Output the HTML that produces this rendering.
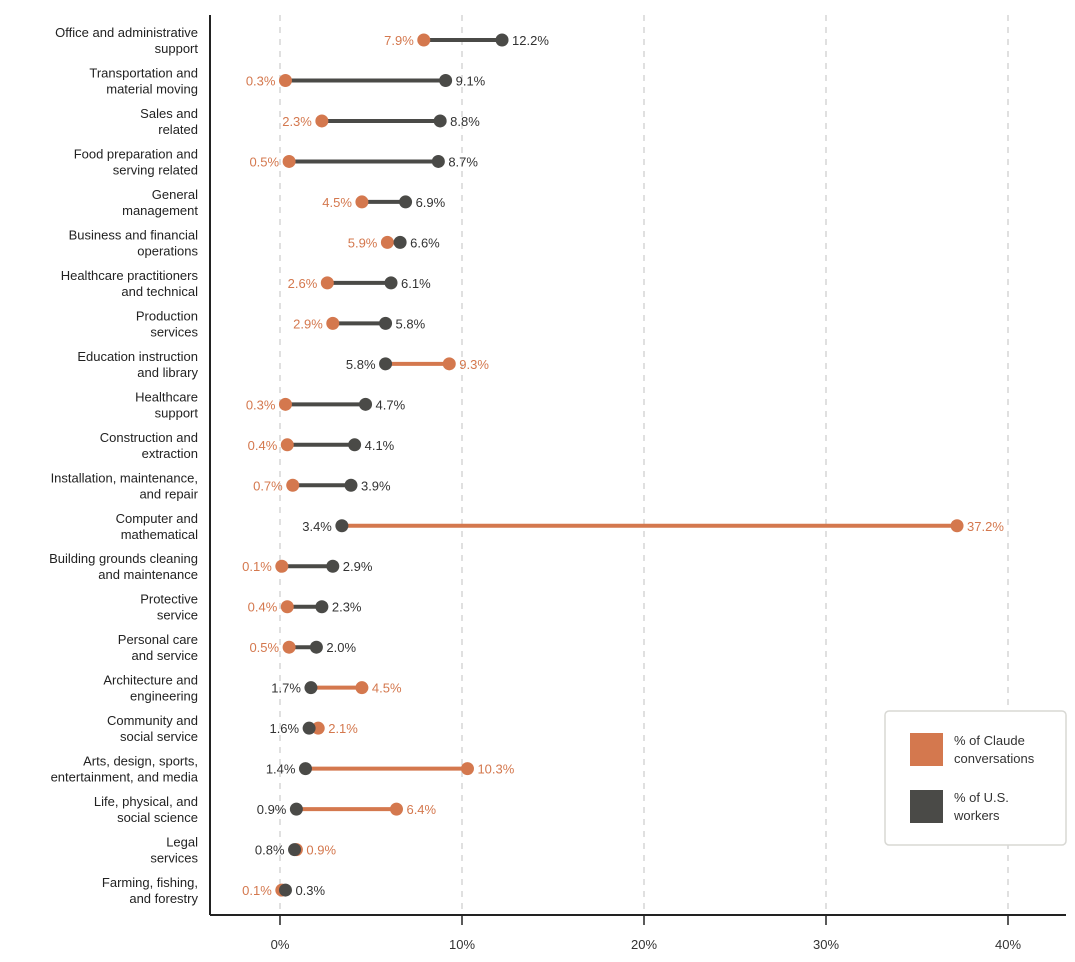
<!DOCTYPE html>
<html><head><meta charset="utf-8"><style>
body{margin:0;background:#fff;font-family:"Liberation Sans",sans-serif;}
svg text{font-family:"Liberation Sans",sans-serif;}
</style></head><body>
<svg id="chart" width="1075" height="957" xmlns="http://www.w3.org/2000/svg">
<g id="grid"></g><g id="rows"></g><g id="axis"></g>
<g>
<rect x="885" y="711" width="181" height="134" rx="4" fill="#fff" stroke="#d8d8d4" stroke-width="1.5"/>
<rect x="910" y="733" width="33" height="33" fill="#d4784e"/>
<text x="954" y="745" font-size="13" fill="#333">% of Claude</text>
<text x="954" y="763" font-size="13" fill="#333">conversations</text>
<rect x="910" y="790" width="33" height="33" fill="#4a4a47"/>
<text x="954" y="802" font-size="13" fill="#333">% of U.S.</text>
<text x="954" y="820" font-size="13" fill="#333">workers</text>
</g>
</svg>
<script>
const categories=[["Office and administrative","support"],["Transportation and","material moving"],["Sales and","related"],["Food preparation and","serving related"],["General","management"],["Business and financial","operations"],["Healthcare practitioners","and technical"],["Production","services"],["Education instruction","and library"],["Healthcare","support"],["Construction and","extraction"],["Installation, maintenance,","and repair"],["Computer and","mathematical"],["Building grounds cleaning","and maintenance"],["Protective","service"],["Personal care","and service"],["Architecture and","engineering"],["Community and","social service"],["Arts, design, sports,","entertainment, and media"],["Life, physical, and","social science"],["Legal","services"],["Farming, fishing,","and forestry"]];
const claude=[7.9,0.3,2.3,0.5,4.5,5.9,2.6,2.9,9.3,0.3,0.4,0.7,37.2,0.1,0.4,0.5,4.5,2.1,10.3,6.4,0.9,0.1];
const workers=[12.2,9.1,8.8,8.7,6.9,6.6,6.1,5.8,5.8,4.7,4.1,3.9,3.4,2.9,2.3,2.0,1.7,1.6,1.4,0.9,0.8,0.3];
const ticks=[0,10,20,30,40];
const NS="http://www.w3.org/2000/svg";
const x=v=>280+v*18.2;
const y=i=>40+i*40.48;
const OR="#d4784e",DK="#4a4a47";
function mk(p,t,a){const e=document.createElementNS(NS,t);for(const k in a)e.setAttribute(k,a[k]);p.appendChild(e);return e;}
const grid=document.getElementById('grid'),rows=document.getElementById('rows'),axis=document.getElementById('axis');
ticks.forEach(t=>{
 const g=mk(grid,'line',{x1:x(t),x2:x(t),y1:15,y2:915,stroke:'#d6d6d6','stroke-width':1.5,'stroke-dasharray':'6,6'});
 
 
 const tk=mk(axis,'line',{x1:x(t),x2:x(t),y1:915,y2:925,stroke:'#222','stroke-width':1.5});
 
 
 const tl=mk(axis,'text',{x:x(t),y:949,'text-anchor':'middle','font-size':13,fill:'#333'});
 tl.textContent=t+'%';
 
 
});
const yl=mk(axis,'line',{x1:210,x2:210,y1:15,y2:915,stroke:'#222','stroke-width':2});


const xl=mk(axis,'line',{x1:210,x2:1066,y1:915,y2:915,stroke:'#222','stroke-width':2});


categories.forEach((c,i)=>{
 const cy=y(i);
 const lab=mk(rows,'text',{x:198,'text-anchor':'end','font-size':13,fill:'#222'});
 
 
 mk(lab,'tspan',{x:198,y:cy-3}).textContent=c[0];
 mk(lab,'tspan',{x:198,y:cy+13}).textContent=c[1];
 const a=claude[i],b=workers[i],hiC=a>b;
 const ln=mk(rows,'line',{x1:x(a),x2:x(b),y1:cy,y2:cy,stroke:hiC?OR:DK,'stroke-width':4});
 
 
 const lo=hiC?b:a,hi=hiC?a:b;
 const dc=mk(rows,'circle',{cx:x(a),cy:cy,r:6.5,fill:OR});
 
 
 const dw=mk(rows,'circle',{cx:x(b),cy:cy,r:6.5,fill:DK});
 
 
 const t1=mk(rows,'text',{x:x(lo)-10,y:cy+5,'text-anchor':'end','font-size':13,fill:hiC?'#333':OR});
 t1.textContent=lo.toFixed(1)+'%';
 
 
 const t2=mk(rows,'text',{x:x(hi)+10,y:cy+5,'text-anchor':'start','font-size':13,fill:hiC?OR:'#333'});
 t2.textContent=hi.toFixed(1)+'%';
 
 
});
</script>
</body></html>
